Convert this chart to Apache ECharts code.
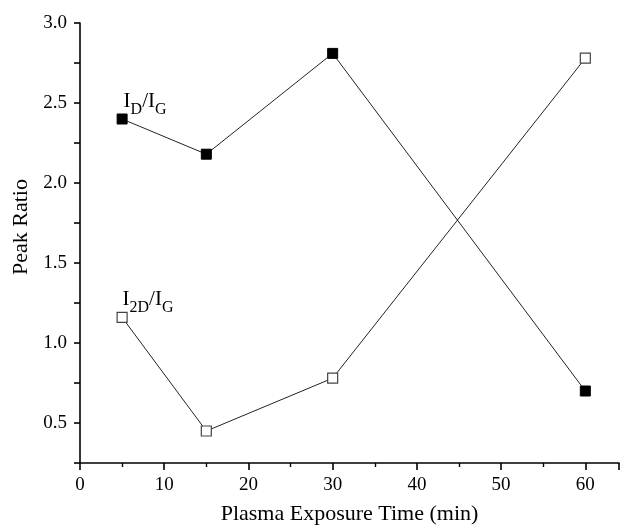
<!DOCTYPE html>
<html>
<head>
<meta charset="utf-8">
<script src="https://cdn.jsdelivr.net/npm/echarts@6/dist/echarts.min.js"></script>
<style>html,body{margin:0;padding:0;background:#fff}#box{width:621px;height:525px}</style>
</head>
<body>
<div id="box"></div>
<script>
// Peak ratio vs plasma exposure time
var times = [5, 15, 30, 60];
var ratioD = [2.40, 2.18, 2.81, 0.70];    // I_D/I_G, filled squares
var ratio2D = [1.16, 0.45, 0.78, 2.78];   // I_2D/I_G, open squares

var font = 'Liberation Serif';
var chart = echarts.init(document.getElementById('box'));

function pairs(ys) {
    return times.map(function (t, i) { return [t, ys[i]]; });
}

var subRich = {
    a: { fontFamily: font, fontSize: 21, color: '#000' },
    b: { fontFamily: font, fontSize: 16, color: '#000', verticalAlign: 'bottom', padding: [0, 0, -6, 0] }
};

var option = {
    animation: false,
    grid: { left: 80, right: 2, top: 23, bottom: 62, outerBoundsMode: 'none', containLabel: false },
    xAxis: {
        type: 'value',
        min: 0,
        max: 64,
        interval: 10,
        name: 'Plasma Exposure Time (min)',
        nameLocation: 'middle',
        nameGap: 40,
        nameTextStyle: { fontFamily: font, fontSize: 22, color: '#000' },
        axisLine: { lineStyle: { color: '#000', width: 1.6 } },
        axisTick: { inside: false, length: 7, lineStyle: { color: '#000', width: 1.6 } },
        minorTick: { show: true, splitNumber: 2, length: 4, lineStyle: { color: '#000', width: 1.4 } },
        axisLabel: { fontFamily: font, fontSize: 19, color: '#000', margin: 13, showMaxLabel: false },
        splitLine: { show: false }
    },
    yAxis: {
        type: 'value',
        min: 0.25,
        max: 3.0,
        interval: 0.25,
        name: 'Peak Ratio',
        nameLocation: 'middle',
        nameGap: 43,
        nameTextStyle: { fontFamily: font, fontSize: 22, color: '#000', padding: [0, 0, 0, 32] },
        axisLine: { lineStyle: { color: '#000', width: 1.6 } },
        axisTick: { inside: false, length: 6, lineStyle: { color: '#000', width: 1.6 } },
        axisLabel: {
            fontFamily: font, fontSize: 19, color: '#000', margin: 13,
            formatter: function (v) {
                return Math.abs(v * 2 - Math.round(v * 2)) < 1e-6 ? v.toFixed(1) : '';
            }
        },
        splitLine: { show: false }
    },
    series: [
        {
            name: 'ID/IG',
            type: 'line',
            data: pairs(ratioD),
            symbol: 'rect',
            symbolSize: 10,
            itemStyle: { color: '#000', borderColor: '#000', borderWidth: 1 },
            lineStyle: { color: '#222', width: 1 },
            label: {
                show: true,
                position: [7, -23],
                rich: subRich,
                formatter: function (p) { return p.dataIndex === 0 ? '{a|I}{b|D}{a|/I}{b|G}' : ''; }
            }
        },
        {
            name: 'I2D/IG',
            type: 'line',
            data: pairs(ratio2D),
            symbol: 'rect',
            symbolSize: 10,
            itemStyle: { color: '#fff', borderColor: '#444', borderWidth: 1.2 },
            lineStyle: { color: '#222', width: 1 },
            label: {
                show: true,
                position: [6, -23],
                rich: subRich,
                formatter: function (p) { return p.dataIndex === 0 ? '{a|I}{b|2D}{a|/I}{b|G}' : ''; }
            }
        }
    ]
};

option && chart.setOption(option);
</script>
</body>
</html>
